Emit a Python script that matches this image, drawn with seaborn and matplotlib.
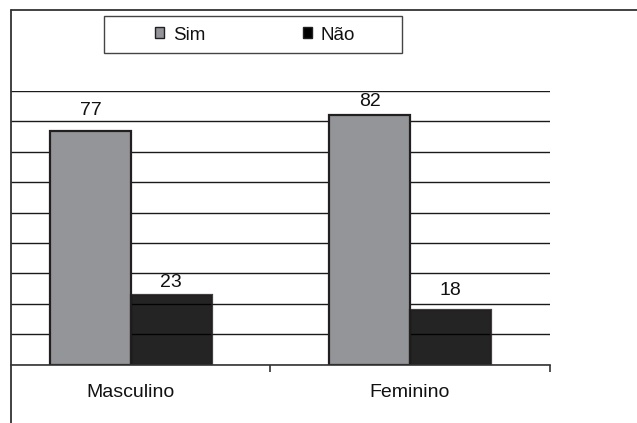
import matplotlib
matplotlib.use("Agg")
import matplotlib.pyplot as plt
from matplotlib.lines import Line2D
from matplotlib.patches import Rectangle
import seaborn as sns
import pandas as pd

# Survey answers by sex (percent)
categories = ["Masculino", "Feminino"]
answers = ["Sim", "Não"]
sim_values = [77, 82]
nao_values = [23, 18]

df = pd.DataFrame({
    "sexo": categories * 2,
    "resposta": [answers[0]] * 2 + [answers[1]] * 2,
    "valor": sim_values + nao_values,
})

sns.set_theme(style="white")
plt.rcParams["font.family"] = ["Liberation Sans", "DejaVu Sans"]

W, H = 637, 423
fig = plt.figure(figsize=(W / 100, H / 100), dpi=100)

# axes placed in pixel terms: x from 11 to 549.5, y from 91 to 364.5
ax = fig.add_axes([11 / W, (H - 364.5) / H, 538.5 / W, 273.5 / H])

palette = {"Sim": "#949599", "Não": "#000000"}
sns.barplot(data=df, x="sexo", y="valor", hue="resposta", hue_order=answers,
            order=categories, palette=palette, width=0.578, saturation=1,
            edgecolor="#231f20", linewidth=1.6, ax=ax, zorder=2)

# the dark series lets the grid show through faintly
for p in ax.containers[1]:
    p.set_alpha(0.86)

ax.set_yticks(range(0, 91, 10))
ax.set_yticklabels([])
ax.tick_params(axis="y", length=0)
ax.grid(axis="y", color="#1a1a1a", linewidth=1.0, zorder=1)
ax.set_axisbelow(True)

for side in ["top", "right", "left"]:
    ax.spines[side].set_visible(False)
ax.spines["bottom"].set_color("#333333")
ax.spines["bottom"].set_linewidth(1.2)
ax.spines["bottom"].set_zorder(3)

ax.set_xlabel("")
ax.set_ylabel("")
ax.tick_params(axis="x", which="major", length=0, pad=14, labelsize=14)
ax.set_xticks([0.5, 1.5], minor=True)
ax.tick_params(axis="x", which="minor", length=5, width=1.2, color="#333333",
               direction="out", bottom=True)
for lab in ax.get_xticklabels():
    lab.set_color("#111111")

ax.set_xlim(-0.43, 1.5)
ax.set_ylim(0, 90)

# value labels above each bar
label_pad = [[8, 2.5], [4, 8]]
for ci, cont in enumerate(ax.containers):
    for bi, (bar, val) in enumerate(zip(cont, [sim_values, nao_values][ci])):
        ax.annotate(f"{val}", (bar.get_x() + bar.get_width() / 2, bar.get_height()),
                    xytext=(0, label_pad[bi][ci]), textcoords="offset points",
                    ha="center", va="bottom", fontsize=14, color="#111111")

# legend without frame, boxed separately
sns.move_legend(ax, loc="center", bbox_to_anchor=(255 / W, 1 - 35 / H),
                bbox_transform=fig.transFigure, ncol=2, frameon=False, title=None,
                fontsize=13.5, handlelength=0.5, handleheight=0.5,
                handletextpad=0.45, columnspacing=5.2)
for h in ax.get_legend().legend_handles:
    h.set_alpha(1)
    h.set_edgecolor("#231f20")
    h.set_linewidth(1.0)
for t in ax.get_legend().get_texts():
    t.set_color("#111111")

fig.patches.append(Rectangle((104 / W, 1 - 53 / H), 298 / W, 37 / H,
                             transform=fig.transFigure, fill=False,
                             edgecolor="#444444", linewidth=1.0))

# chart area border on the top and left
fig.lines.append(Line2D([11 / W, 1], [1 - 10 / H, 1 - 10 / H],
                        transform=fig.transFigure, color="#333333", linewidth=1.3))
fig.lines.append(Line2D([11 / W, 11 / W], [0, 1 - 10 / H],
                        transform=fig.transFigure, color="#333333", linewidth=1.3))

fig.savefig("out.png", dpi=100, facecolor="white")
